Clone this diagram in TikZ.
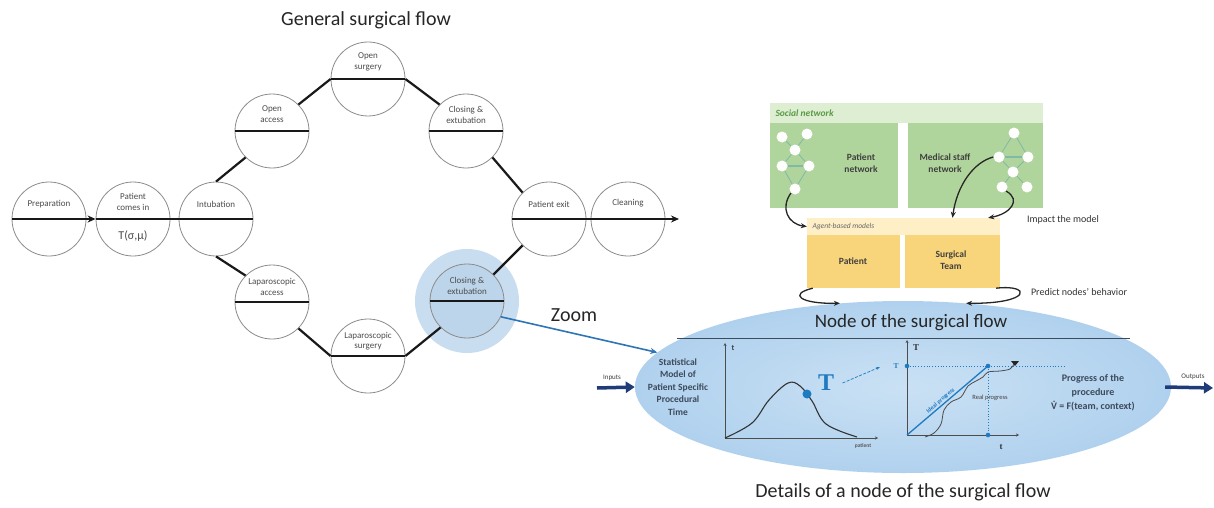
\documentclass[tikz,border=0pt]{standalone}
\usepackage{fontspec}
\setmainfont{Carlito}
\newfontfamily\serifT{Liberation Serif}
\usepackage{tikz}
\usetikzlibrary{arrows.meta, positioning, calc, shapes.geometric}

\definecolor{haloblue}{HTML}{C8DDEF}
\definecolor{closeblue}{HTML}{BDD5EA}
\definecolor{ellin}{HTML}{CAE1F4}
\definecolor{ellout}{HTML}{B0D1EE}
\definecolor{tblue}{HTML}{1F7BC1}
\definecolor{zoomblue}{HTML}{2E75B6}
\definecolor{navy}{HTML}{1F3B78}
\definecolor{snhead}{HTML}{DDEED3}
\definecolor{netgreen}{HTML}{B0D59C}
\definecolor{sngreen}{HTML}{5B9A45}
\definecolor{netline}{HTML}{7FB9A8}
\definecolor{abmhead}{HTML}{FFEFC6}
\definecolor{abmyellow}{HTML}{F8D47A}
\definecolor{slate}{HTML}{3C4A5C}

\newcommand{\vdotV}{\ooalign{V\cr\hidewidth\raisebox{0.7em}{.}\hidewidth\cr}}

\begin{document}
\begin{tikzpicture}[x=1pt, y=-1pt,
  stage/.style={circle, draw=black!45, line width=0.8pt, minimum size=74pt, inner sep=0pt},
  stxt/.style={font=\fontsize{9}{10.5}\selectfont, text=black!70, align=center, inner sep=1pt},
  flow/.style={line width=2.2pt, black!90},
  flowtip/.style={-{Stealth[length=8pt,width=7pt]}},
  head/.style={font=\fontsize{20}{24}\selectfont, text=black!85},
  netbox/.style={fill=netgreen, inner sep=0pt},
  netdot/.style={circle, fill=white, minimum size=11pt, inner sep=0pt},
  netln/.style={line width=0.8pt, netline},
  abox/.style={fill=abmyellow, inner sep=0pt},
  btxt/.style={font=\fontsize{9.5}{12.5}\selectfont\bfseries, text=black!75, align=center},
  carr/.style={-{Stealth[length=6pt,width=5pt]}, line width=1.3pt, black!85},
  axln/.style={-{Stealth[length=3pt,width=3pt]}, line width=0.7pt, black!70},
  io/.style={-{Triangle[length=9pt,width=11pt]}, line width=3.5pt, navy},
]
\fill[white] (0,0) rectangle (1214,508);
\useasboundingbox (0,0) rectangle (1214,508);

%% ---- General surgical flow ----
\node[head] (gtitle) at (366,20) {General surgical flow};

\fill[haloblue] (467,301) circle (52pt);

\node[stage] (prep)   at ( 49,219) {};
\node[stage] (pin)    at (133,219) {};
\node[stage] (intub)  at (216,219) {};
\node[stage] (oacc)   at (272,131) {};
\node[stage] (osurg)  at (368, 79) {};
\node[stage] (closeA) at (466,131) {};
\node[stage] (lacc)   at (272,302) {};
\node[stage] (lsurg)  at (368,356) {};
\node[stage, fill=closeblue] (closeB) at (467,301) {};
\node[stage] (pexit)  at (549,219) {};
\node[stage] (clean)  at (628,219) {};

%% labels in the upper halves
\node[stxt] (prepT)   at ([yshift=15pt]prep.center)   {Preparation};
\node[stxt] (pinT)    at ([yshift=17pt]pin.center)    {Patient\\comes in};
\node[stxt, font=\fontsize{12}{14}\selectfont] (pinS) at ([yshift=-17pt]pin.center) {T(σ,μ)};
\node[stxt] (intubT)  at ([yshift=15pt]intub.center)  {Intubation};
\node[stxt] (oaccT)   at ([yshift=17pt]oacc.center)   {Open\\access};
\node[stxt] (osurgT)  at ([yshift=17pt]osurg.center)  {Open\\surgery};
\node[stxt] (closeAT) at ([yshift=16pt]closeA.center) {Closing \&\\extubation};
\node[stxt] (laccT)   at ([yshift=15pt]lacc.center)   {Laparoscopic\\access};
\node[stxt] (lsurgT)  at ([yshift=15pt]lsurg.center)  {Laparoscopic\\surgery};
\node[stxt] (closeBT) at ([yshift=15pt]closeB.center) {Closing \&\\extubation};
\node[stxt] (pexitT)  at ([yshift=15pt]pexit.center)  {Patient exit};
\node[stxt] (cleanT)  at ([yshift=16pt]clean.center)  {Cleaning};

%% main line and diameters
\coordinate (fend) at (679,219);
\draw[flow, flowtip] (prep.west) -- (pin.west);
\draw[flow] (pin.west) -- (intub.east);
\draw[flow] (pexit.west) -- (clean.east);
\draw[flow, flowtip] (clean.east) -- (fend);
\foreach \n in {oacc,osurg,closeA,lacc,lsurg,closeB}
  \draw[flow] (\n.west) -- (\n.east);

%% branches
\draw[flow] (intub.north) -- (oacc.225);
\draw[flow] (oacc.45)     -- (osurg.west);
\draw[flow] (osurg.east)  -- (closeA.135);
\draw[flow] (closeA.-45)  -- (pexit.135);
\draw[flow] (intub.south) -- (lacc.135);
\draw[flow] (lacc.-45)    -- (lsurg.west);
\draw[flow] (lsurg.east)  -- (closeB.225);
\draw[flow] (closeB.45)   -- (pexit.225);

%% ---- Node of the surgical flow ----
\node[ellipse, minimum width=536pt, minimum height=172pt, inner sep=0pt,
      inner color=ellin, outer color=ellout] (zoomnode) at (903,387) {};
\node[font=\fontsize{19}{22}\selectfont, text=black!85] (ntitle) at (911,323) {Node of the surgical flow};
\draw[line width=1pt, slate] (677,338) -- (1130,338);

\node[head] (zoomT) at (574,315) {Zoom};
\draw[zoomblue, line width=1.6pt, -{Stealth[length=7pt,width=6pt]}] (closeB.-25) -- (zoomnode.172);

\node[btxt, text=slate] (stat) at (678,387) {Statistical\\Model of\\Patient Specific\\Procedural\\Time};

%% first graph
\coordinate (g1o) at (725,438);
\draw[axln] (g1o) -- (725,343);
\draw[axln] (g1o) -- (878,438);
\node[font=\fontsize{8}{9}\selectfont\bfseries, text=black!75] (g1t) at (733,348) {t};
\node[font=\fontsize{5.5}{6}\selectfont\bfseries, text=black!65] (g1p) at (863,446) {patient};
\draw[line width=1.1pt, black!80] plot[smooth, tension=0.6] coordinates
  {(725,438) (752,423) (769,400) (788,383) (800,386) (812,401) (826,424) (857,437)};
\fill[tblue] (807,394) circle (4.5pt);
\node[font=\serifT\bfseries\fontsize{24}{24}\selectfont, text=tblue] (bigT) at (826,383) {T};
\draw[tblue, line width=0.7pt, dash pattern=on 3pt off 1.5pt, -{Stealth[length=4pt,width=3pt]}]
  ([xshift=5pt]bigT.east) -- (880,367);

%% second graph
\coordinate (g2o) at (907,435);
\draw[axln] (g2o) -- (907,340);
\draw[axln] (g2o) -- (1019,435);
\draw[tblue, dotted, line width=0.8pt] (907,366) -- (1065,366);
\draw[tblue, dotted, line width=0.8pt] (988,366) -- (988,435);
\draw[tblue, line width=1.3pt] (g2o) -- (988,366)
  node[pos=0.45, above, sloped, font=\fontsize{6}{7}\selectfont\bfseries, text=tblue, inner sep=1pt] (ideal) {Ideal progress};
\fill[tblue] (907,366) circle (2.3pt);
\fill[tblue] (988,366) circle (2.3pt);
\fill[tblue] (988,435) circle (2.3pt);
\draw[black!70, line width=0.8pt] plot[smooth, tension=0.55] coordinates
  {(925,437) (934,433) (941,424) (944,410) (951,402) (961,397) (968,386) (976,381) (983,377) (988,372) (1000,371) (1010,369) (1014,364)};
\fill[black!85] (1011,361) -- (1019,361) -- (1015,366) -- cycle;
\node[font=\fontsize{6.5}{7}\selectfont, text=black!75] (real) at (990,398) {Real progress};
\node[font=\serifT\bfseries\fontsize{9}{10}\selectfont, text=black!80] (g2T) at (916,348) {T};
\node[font=\serifT\bfseries\fontsize{7.5}{9}\selectfont, text=tblue] (g2T0) at (896,366) {T};
\node[font=\serifT\bfseries\fontsize{9}{10}\selectfont, text=black!80] (g2t) at (1001,447) {t};

\node[btxt, font=\fontsize{10}{14}\selectfont\bfseries, text=slate] (prog) at (1093,393)
  {Progress of the\\procedure\\\vdotV{} = F(team, context)};

%% inputs / outputs
\coordinate (inL)  at (597,388);
\coordinate (outR) at (1213,388);
\draw[io] (inL) -- (zoomnode.west);
\draw[io] ([xshift=-6pt]zoomnode.east) -- (outR);
\node[font=\fontsize{7}{8}\selectfont, text=black!75] (inT)  at (612,378) {Inputs};
\node[font=\fontsize{7}{8}\selectfont, text=black!75] (outT) at (1193,377) {Outputs};

\node[head] (dtitle) at (903,492) {Details of a node of the surgical flow};

%% ---- Social network ----
\node[fill=snhead, minimum width=273pt, minimum height=20pt, inner sep=0pt] (snh) at (906.5,113) {};
\node[font=\fontsize{9.5}{11}\selectfont\itshape\bfseries, text=sngreen, anchor=west] (snT) at (772,113) {Social network};
\node[netbox, minimum width=128pt, minimum height=85pt] (pnet) at (834,165.5) {};
\node[netbox, minimum width=135pt, minimum height=85pt] (snet) at (975.5,165.5) {};
\node[btxt] (pnetT) at (861,163) {Patient\\network};
\node[btxt] (snetT) at (945,163) {Medical staff\\network};

%% patient network
\node[netdot] (p1) at (807,134) {};
\node[netdot] (p2) at (782,137) {};
\node[netdot] (p3) at (795,150) {};
\node[netdot] (p4) at (782,166) {};
\node[netdot] (p5) at (809,166) {};
\node[netdot] (p6) at (795,189) {};
\draw[netln] (p1) -- (p3);  \draw[netln] (p2) -- (p3);
\draw[netln] (p3) -- (p4);  \draw[netln] (p3) -- (p5);
\draw[netln, line width=1.1pt] (p4) -- (p5);
\draw[netln] (p4) -- (p6);  \draw[netln] (p5) -- (p6);

%% medical staff network
\node[netdot] (s1) at (1014,133) {};
\node[netdot] (s2) at (999,157) {};
\node[netdot] (s3) at (1028,157) {};
\node[netdot] (s4) at (1013,172) {};
\node[netdot] (s5) at (1002,187) {};
\node[netdot] (s6) at (1027,187) {};
\draw[netln] (s1) -- (s2);  \draw[netln] (s1) -- (s3);
\draw[netln, line width=1.1pt] (s2) -- (s3);
\draw[netln] (s2) -- (s4);  \draw[netln] (s3) -- (s4);
\draw[netln] (s4) -- (s5);  \draw[netln] (s4) -- (s6);

%% ---- Agent-based models ----
\node[fill=abmhead, minimum width=193pt, minimum height=17pt, inner sep=0pt] (abmh) at (903.5,226.5) {};
\node[font=\fontsize{7.5}{9}\selectfont\itshape, text=black!60, anchor=west] (abmT) at (809,226.5) {Agent-based models};
\node[abox, minimum width=93pt, minimum height=53pt] (pabm) at (853.5,261.5) {};
\node[abox, minimum width=95pt, minimum height=53pt] (tabm) at (952.5,261.5) {};
\node[btxt] (pabmT) at (853,261) {Patient};
\node[btxt] (tabmT) at (951,260) {Surgical\\Team};

\draw[carr] (p6.south west) .. controls (780,208) and (788,224) .. (abmh.west);
\draw[carr] (s2.west) .. controls (974,162) and (957,185) .. (abmh.north -| tabm.north);
\draw[carr] (s5.south east) .. controls (1022,200) and (1010,214) .. ([xshift=-12pt]abmh.north east);
\node[font=\fontsize{10}{12}\selectfont, text=black!80] (impT) at (1063,220) {Impact the model};

\draw[carr] ([xshift=6pt]pabm.south west) .. controls (788,294) and (800,304) .. (zoomnode.127);
\draw[carr] ([xshift=-4pt]tabm.south east) .. controls (1032,284) and (1032,304) .. (zoomnode.53);
\node[font=\fontsize{10}{12}\selectfont, text=black!80] (predT) at (1079,292) {Predict nodes' behavior};
\end{tikzpicture}
\end{document}
